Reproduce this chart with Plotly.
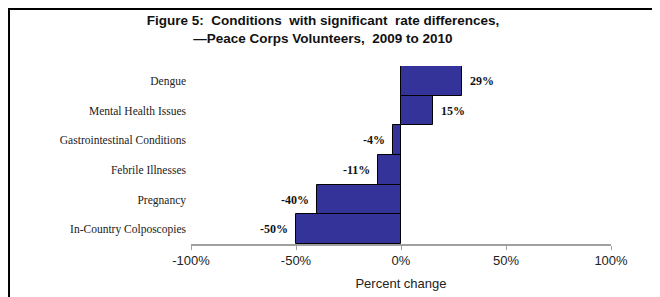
import plotly.graph_objects as go

categories = ["Dengue", "Mental Health Issues", "Gastrointestinal Conditions",
              "Febrile Illnesses", "Pregnancy", "In-Country Colposcopies"]
values = [29, 15, -4, -11, -40, -50]
value_labels = ["29%", "15%", "-4%", "-11%", "-40%", "-50%"]
tick_vals = [-100, -50, 0, 50, 100]
tick_text = ["-100%", "-50%", "0%", "50%", "100%"]

fig = go.Figure()
fig.add_trace(go.Bar(
    x=values, y=categories, orientation="h",
    marker=dict(color="#333399", line=dict(color="#000000", width=1)),
    hoverinfo="skip",
))

for v, c, t in zip(values, categories, value_labels):
    fig.add_annotation(
        x=v, y=c, text="<b>" + t + "</b>", showarrow=False,
        xanchor="left" if v >= 0 else "right",
        xshift=6 if v >= 0 else -6,
        font=dict(family="Liberation Serif", size=12, color="#111111"),
    )

# outer frame (decoration)
fig.add_shape(type="line", xref="paper", yref="paper",
              x0=-0.4357, x1=1.0976, y0=1.3202, y1=1.3202,
              line=dict(color="#000000", width=2))
fig.add_shape(type="line", xref="paper", yref="paper",
              x0=-0.4333, x1=-0.4333, y0=1.3258, y1=-0.4,
              line=dict(color="#000000", width=2))

fig.update_layout(
    width=652, height=289,
    margin=dict(l=183, r=49, t=58, b=53),
    paper_bgcolor="white", plot_bgcolor="white",
    bargap=0,
    showlegend=False,
    title=dict(
        text="<b>Figure 5:&nbsp; Conditions&nbsp; with significant&nbsp; rate differences,<br>—Peace Corps Volunteers,&nbsp; 2009 to 2010</b>",
        x=0.483, xanchor="center", y=0.94, yanchor="top",
        font=dict(family="Liberation Sans", size=13.5, color="#111111"),
    ),
    xaxis=dict(
        range=[-100, 100], tickvals=tick_vals, ticktext=tick_text,
        showgrid=False, zeroline=False, automargin=False,
        showline=True, linecolor="#a0a0a0", linewidth=1.5,
        ticks="outside", ticklen=4, tickcolor="#a0a0a0",
        tickfont=dict(family="Liberation Sans", size=13, color="#222222"),
        title=dict(text="Percent change", standoff=12,
                   font=dict(family="Liberation Sans", size=13, color="#222222")),
        fixedrange=True,
    ),
    yaxis=dict(
        categoryorder="array", categoryarray=categories,
        autorange="reversed", automargin=False,
        showgrid=False, zeroline=False, showline=False,
        ticks="", ticklabelstandoff=4,
        tickfont=dict(family="Liberation Serif", size=11.5, color="#222222"),
        fixedrange=True,
    ),
)

fig.write_html("out.html")
